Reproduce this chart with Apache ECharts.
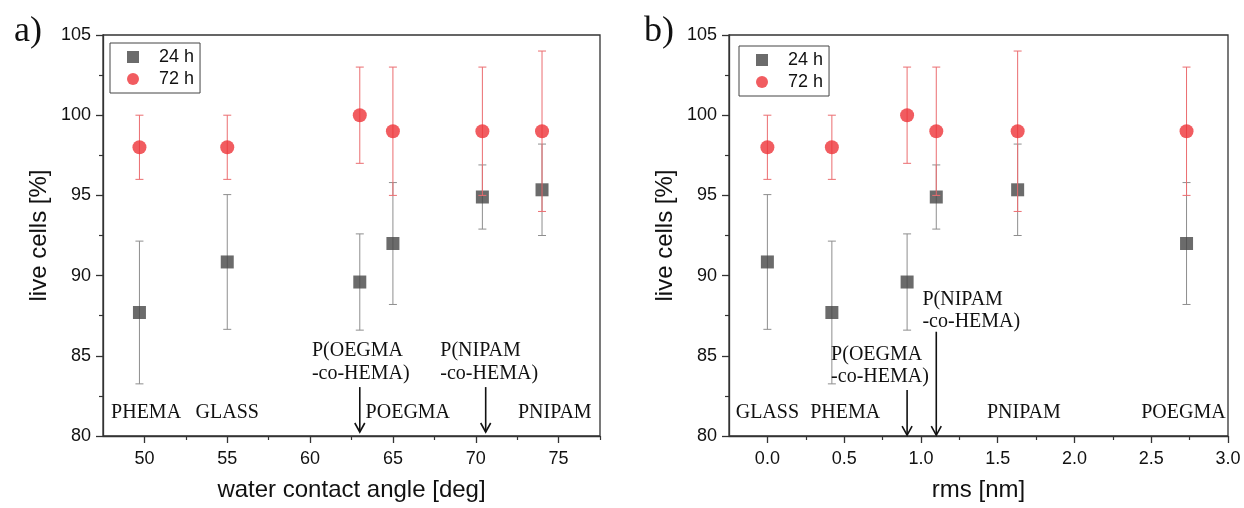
<!DOCTYPE html>
<html><head><meta charset="utf-8">
<script src="https://cdn.jsdelivr.net/npm/echarts@6/dist/echarts.min.js"></script>
<style>html,body{margin:0;padding:0;background:#fff}#c{width:1244px;height:508px}</style>
</head><body><div id="c"></div>
<script>
// ---- data ----
const samples = ['PHEMA', 'GLASS', 'P(OEGMA-co-HEMA)', 'POEGMA', 'P(NIPAM-co-HEMA)', 'PNIPAM'];
const contactAngle = [49.7, 55.0, 63.0, 65.0, 70.4, 74.0];
const rms = [0.42, 0.0, 0.91, 2.73, 1.10, 1.63];
const live24 = [87.7, 90.85, 89.6, 92.0, 94.9, 95.35];
const err24 = [4.45, 4.2, 3.0, 3.8, 2.0, 2.85];
const live72 = [98, 98, 100, 99, 99, 99];
const err72 = [2, 2, 3, 4, 4, 5];
const xTicksA = [50, 55, 60, 65, 70, 75];
const xMinorA = [52.5, 57.5, 62.5, 67.5, 72.5, 77.5];
const xTicksB = [0, 0.5, 1.0, 1.5, 2.0, 2.5, 3.0];
const xMinorB = [0.25, 0.75, 1.25, 1.75, 2.25, 2.75];
const yTicks = [80, 85, 90, 95, 100, 105];

// annotations: [text, x, y, align] in data coordinates (y = text middle)
const labelsA = [
  ['PHEMA', 50.1, 81.46, 'center'], ['GLASS', 55.0, 81.46, 'center'],
  ['POEGMA', 65.9, 81.46, 'center'], ['PNIPAM', 74.77, 81.46, 'center'],
  ['P(OEGMA', 60.11, 85.34, 'left'], ['-co-HEMA)', 60.11, 83.91, 'left'],
  ['P(NIPAM', 67.86, 85.34, 'left'], ['-co-HEMA)', 67.86, 83.91, 'left']
];
const arrowsA = [[63.0, 83.05, 80.25], [70.6, 83.05, 80.25]];
const labelsB = [
  ['GLASS', 0.0, 81.42, 'center'], ['PHEMA', 0.507, 81.42, 'center'],
  ['PNIPAM', 1.67, 81.42, 'center'], ['POEGMA', 2.71, 81.42, 'center'],
  ['P(OEGMA', 0.415, 85.05, 'left'], ['-co-HEMA)', 0.415, 83.72, 'left'],
  ['P(NIPAM', 1.01, 88.48, 'left'], ['-co-HEMA)', 1.01, 87.15, 'left']
];
const arrowsB = [[0.91, 82.87, 80.06], [1.10, 86.5, 80.06]];

// ---- styles ----
const GRAY = '#464646', RED = '#ee3338', GRAY_ERR = '#8e8e8e', RED_ERR = '#eb6d70';
const SANS = 'Liberation Sans', SERIF = 'Liberation Serif';
const AX = '#333';

function ptData(xs, ys) { return xs.map((x, i) => [x, ys[i]]); }
function errData(xs, ys, es) { return xs.map((x, i) => [x, ys[i] - es[i], ys[i] + es[i]]); }

function errRender(color) {
  return function (params, api) {
    const x = api.value(0);
    const lo = api.coord([x, api.value(1)]);
    const hi = api.coord([x, api.value(2)]);
    const w = 4;
    const st = { stroke: color, lineWidth: 1 };
    return { type: 'group', children: [
      { type: 'line', shape: { x1: lo[0], y1: lo[1], x2: hi[0], y2: hi[1] }, style: st },
      { type: 'line', shape: { x1: lo[0] - w, y1: lo[1], x2: lo[0] + w, y2: lo[1] }, style: st },
      { type: 'line', shape: { x1: hi[0] - w, y1: hi[1], x2: hi[0] + w, y2: hi[1] }, style: st }
    ] };
  };
}
function labelRender(list) {
  return function (params, api) {
    const item = list[params.dataIndex];
    const p = api.coord([api.value(0), api.value(1)]);
    return { type: 'text', x: p[0], y: p[1], style: {
      text: item[0], font: '20px "' + SERIF + '"', fill: '#111', align: item[3], verticalAlign: 'middle' } };
  };
}
function arrowRender(params, api) {
  const x = api.value(0);
  const a = api.coord([x, api.value(1)]);
  const b = api.coord([x, api.value(2)]);
  const st = { stroke: '#111', lineWidth: 1.6, fill: 'none' };
  return { type: 'group', children: [
    { type: 'line', shape: { x1: a[0], y1: a[1], x2: b[0], y2: b[1] }, style: st },
    { type: 'polyline', shape: { points: [[b[0] - 5, b[1] - 9], [b[0], b[1]], [b[0] + 5, b[1] - 9]] }, style: st }
  ] };
}

function xAxisMain(gi, min, max, ticks, name) {
  return {
    type: 'value', gridIndex: gi, min: min, max: max, position: 'bottom',
    name: name, nameLocation: 'middle', nameGap: 42,
    nameTextStyle: { fontFamily: SANS, fontSize: 24, color: '#111' },
    axisLine: { onZero: false, lineStyle: { color: AX, width: 1.3 } },
    axisTick: { customValues: ticks, length: 7, lineStyle: { color: AX, width: 1.3 } },
    axisLabel: { customValues: ticks, fontFamily: SANS, fontSize: 18, color: '#111', margin: 14,
      formatter: v => gi === 0 ? String(v) : v.toFixed(1) },
    splitLine: { show: false }
  };
}
function xAxisMinor(gi, min, max, ticks) {
  return {
    type: 'value', gridIndex: gi, min: min, max: max, position: 'bottom', offset: 0,
    axisLine: { show: false },
    axisTick: { customValues: ticks, length: 4, lineStyle: { color: AX, width: 1.2 } },
    axisLabel: { show: false }, splitLine: { show: false }
  };
}
function yAxis(gi) {
  return {
    type: 'value', gridIndex: gi, min: 80, max: 105, interval: 5,
    name: 'live cells [%]', nameLocation: 'middle', nameGap: 52, nameRotate: 90,
    nameTextStyle: { fontFamily: SANS, fontSize: 24, color: '#111' },
    axisLine: { show: true, onZero: false, lineStyle: { color: AX, width: 1.3 } },
    axisTick: { show: true, length: 7, lineStyle: { color: AX, width: 1.3 } },
    minorTick: { show: true, splitNumber: 2, length: 4, lineStyle: { color: AX, width: 1.2 } },
    axisLabel: { fontFamily: SANS, fontSize: 18, color: '#111', margin: 12 },
    splitLine: { show: false }, minorSplitLine: { show: false }
  };
}

function panelSeries(xs, xi, yi, labels, arrows) {
  return [
    { type: 'custom', name: 'err24', xAxisIndex: xi, yAxisIndex: yi, renderItem: errRender(GRAY_ERR),
      data: errData(xs, live24, err24), z: 2, silent: true },
    { type: 'scatter', name: '24 h', xAxisIndex: xi, yAxisIndex: yi, symbol: 'rect', symbolSize: 13,
      itemStyle: { color: GRAY }, data: ptData(xs, live24), z: 3 },
    { type: 'custom', name: 'err72', xAxisIndex: xi, yAxisIndex: yi, renderItem: errRender(RED_ERR),
      data: errData(xs, live72, err72), z: 4, silent: true },
    { type: 'scatter', name: '72 h', xAxisIndex: xi, yAxisIndex: yi, symbol: 'circle', symbolSize: 14,
      itemStyle: { color: RED }, data: ptData(xs, live72), z: 5 },
    { type: 'custom', name: 'labels', xAxisIndex: xi, yAxisIndex: yi, renderItem: labelRender(labels),
      data: labels.map(l => [l[1], l[2]]), z: 6, silent: true, clip: false },
    { type: 'custom', name: 'arrows', xAxisIndex: xi, yAxisIndex: yi, renderItem: arrowRender,
      data: arrows, z: 6, silent: true, clip: false }
  ];
}

function legend(left, top) {
  return {
    left: left, top: top, orient: 'vertical', data: ['24 h', '72 h'],
    itemWidth: 12, itemHeight: 12, itemGap: 2,
    padding: [4, 6, 4, 17], borderColor: '#444', borderWidth: 1, backgroundColor: '#fff',
    textStyle: { fontFamily: SANS, fontSize: 18, color: '#111', padding: [0, 0, 0, 15], lineHeight: 20 },
    selectedMode: false
  };
}

const chart = echarts.init(document.getElementById('c'), null, { renderer: 'canvas' });
chart.setOption({
  animation: false,
  backgroundColor: '#fff',
  title: [
    { text: 'a)', left: 9, top: 9, textStyle: { fontFamily: SERIF, fontSize: 36, fontWeight: 'normal', color: '#111' } },
    { text: 'b)', left: 639, top: 9, textStyle: { fontFamily: SERIF, fontSize: 36, fontWeight: 'normal', color: '#111' } }
  ],
  grid: [
    { left: 103, top: 35, width: 497, height: 401, show: true, borderColor: AX, borderWidth: 1.3, backgroundColor: 'transparent' },
    { left: 729, top: 35, width: 499, height: 401, show: true, borderColor: AX, borderWidth: 1.3, backgroundColor: 'transparent' }
  ],
  legend: [legend(110, 43), legend(739, 46)],
  xAxis: [
    xAxisMain(0, 47.5, 77.5, xTicksA, 'water contact angle [deg]'),
    xAxisMinor(0, 47.5, 77.5, xMinorA),
    xAxisMain(1, -0.25, 3.0, xTicksB, 'rms [nm]'),
    xAxisMinor(1, -0.25, 3.0, xMinorB)
  ],
  yAxis: [yAxis(0), yAxis(1)],
  series: [
    ...panelSeries(contactAngle, 0, 0, labelsA, arrowsA),
    ...panelSeries(rms, 2, 1, labelsB, arrowsB)
  ]
});
</script>
</body></html>
